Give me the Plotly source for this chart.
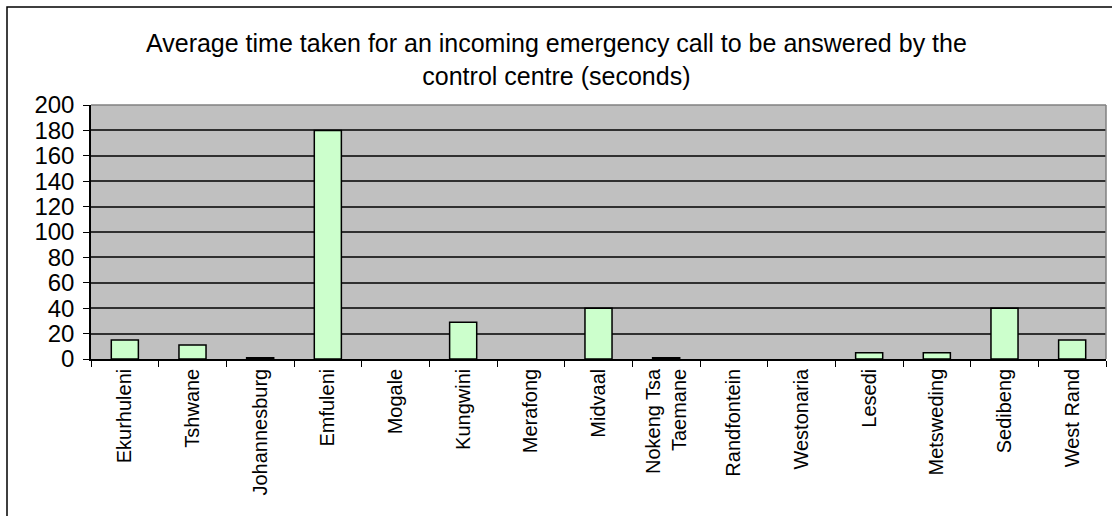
import plotly.graph_objects as go

municipalities = [
    "Ekurhuleni", "Tshwane", "Johannesburg", "Emfuleni", "Mogale", "Kungwini",
    "Merafong", "Midvaal", "Nokeng Tsa<br>Taemane", "Randfontein", "Westonaria",
    "Lesedi", "Metsweding", "Sedibeng", "West Rand",
]
# None = no figure reported for that municipality
answer_seconds = [15, 11, 1, 180, None, 29, None, 40, 1, None, None, 5, 5, 40, 15]
y_ticks = [0, 20, 40, 60, 80, 100, 120, 140, 160, 180, 200]
title_text = ("Average time taken for an incoming emergency call to be answered by the"
              "<br>control centre (seconds)")

FONT = "Liberation Sans, Arial, sans-serif"

fig = go.Figure(
    go.Bar(
        x=municipalities,
        y=answer_seconds,
        width=0.4,
        marker=dict(color="#CCFFCC", line=dict(color="black", width=1.5)),
        hoverinfo="x+y",
    )
)

# plot-area geometry in pixels, used for the outer frame and title placement
L, R, T, B = 91, 6, 105, 157
W, H = 1112, 516
pw, ph = W - L - R, H - T - B


def px_x(v):
    return (v - L) / pw


def px_y(v):
    return (H - B - v) / ph


fig.update_layout(
    width=W,
    height=H,
    margin=dict(l=L, r=R, t=T, b=B, pad=0),
    paper_bgcolor="white",
    plot_bgcolor="#C0C0C0",
    showlegend=False,
    bargap=0.6,
    font=dict(family=FONT, color="black"),
    xaxis=dict(
        tickangle=-90,
        tickfont=dict(family=FONT, size=20),
        ticks="outside",
        tickson="boundaries",
        ticklen=6,
        tickcolor="black",
        showline=True,
        linecolor="black",
        linewidth=1.5,
        showgrid=False,
    ),
    yaxis=dict(
        range=[0, 200],
        tickvals=y_ticks,
        tickfont=dict(family=FONT, size=24),
        ticks="outside",
        ticklen=6,
        tickcolor="black",
        ticklabelstandoff=4,
        showline=True,
        linecolor="black",
        linewidth=1.5,
        showgrid=True,
        gridcolor="#303030",
        gridwidth=1.5,
        zeroline=False,
    ),
    annotations=[
        dict(
            text=title_text,
            xref="paper", yref="paper",
            x=px_x(556), y=px_y(59),
            xanchor="center", yanchor="middle",
            showarrow=False,
            align="center",
            font=dict(family=FONT, size=25, color="black"),
        )
    ],
    shapes=[
        # grey border on top/right of plot area
        dict(type="line", xref="paper", yref="paper", x0=0, x1=1, y0=1, y1=1,
             line=dict(color="#808080", width=1.5)),
        dict(type="line", xref="paper", yref="paper", x0=1, x1=1, y0=0, y1=1,
             line=dict(color="#808080", width=1.5)),
        # outer chart frame
        dict(type="rect", xref="paper", yref="paper",
             x0=px_x(7), x1=px_x(W + 5), y0=px_y(H + 5), y1=px_y(7),
             line=dict(color="black", width=1.5), layer="below"),
    ],
)

fig.write_html("out.html")
